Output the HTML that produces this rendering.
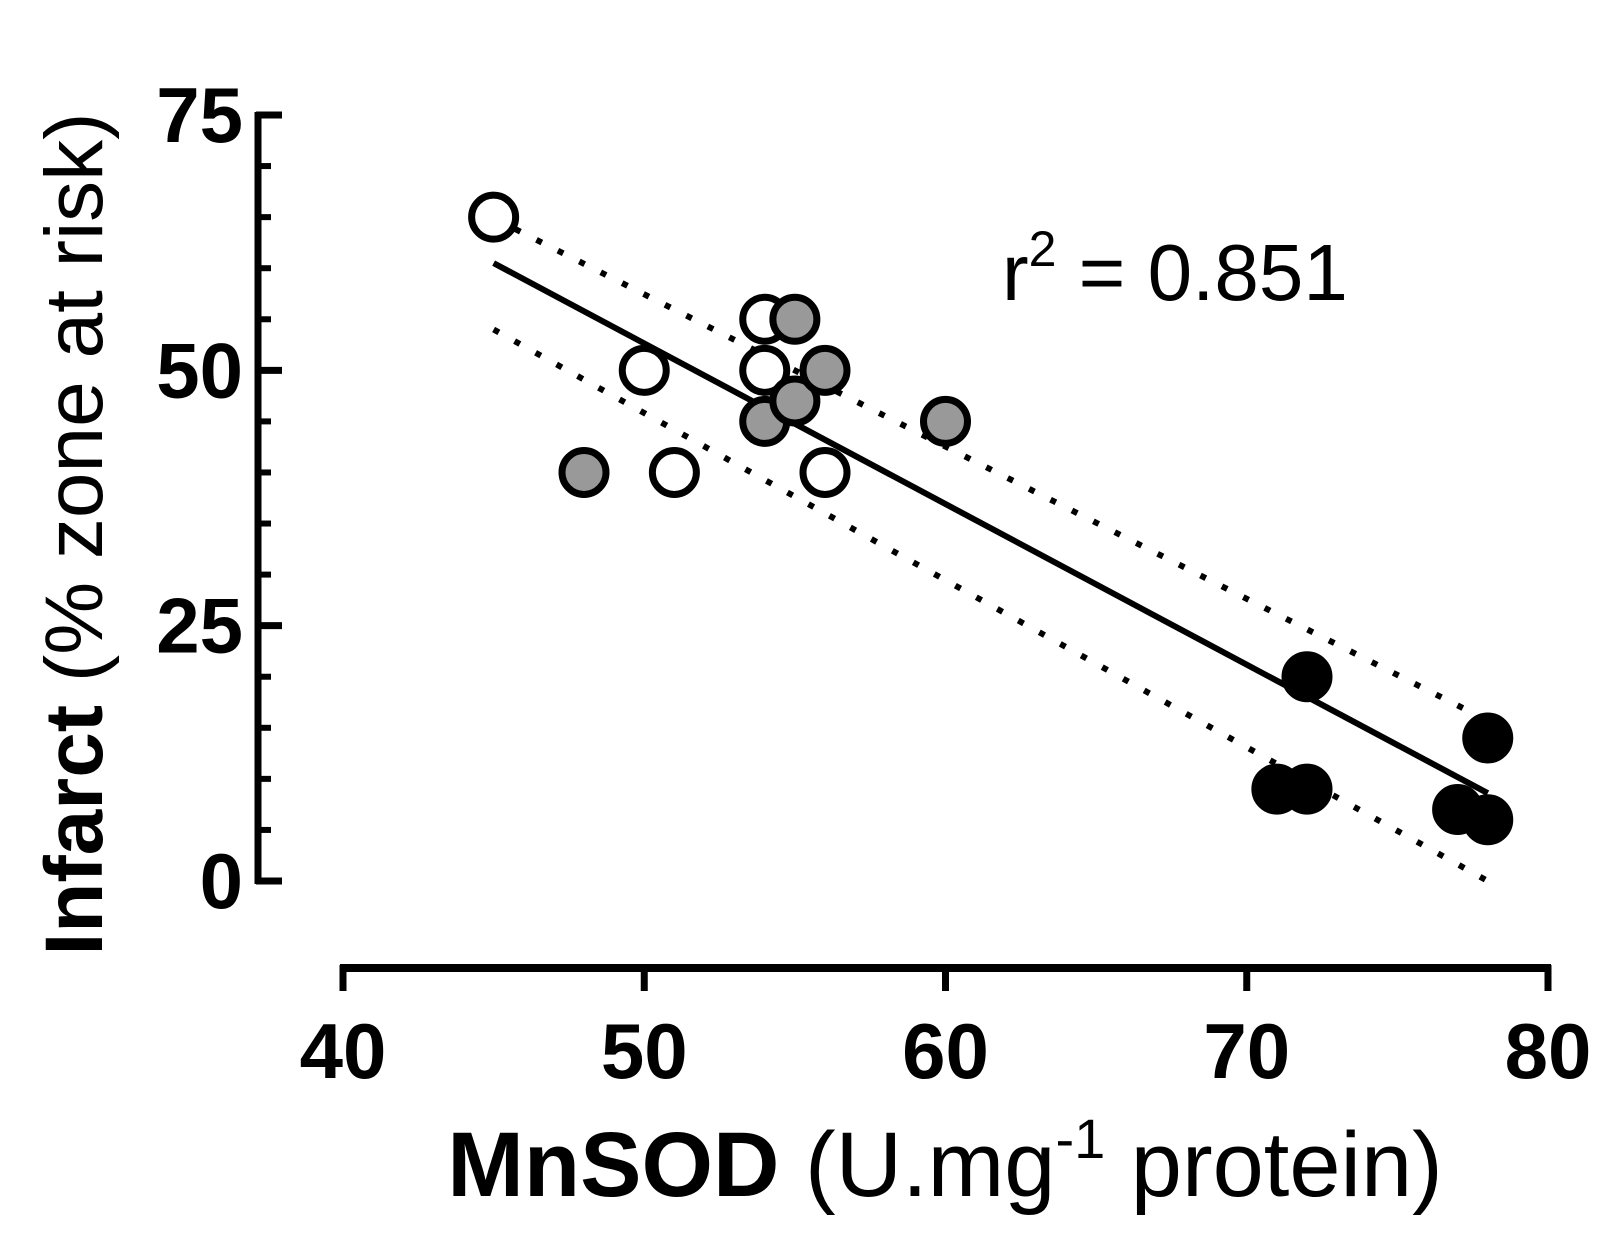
<!DOCTYPE html>
<html><head><meta charset="utf-8"><style>
body{margin:0;background:#fff}
svg{display:block;font-family:"Liberation Sans",Arial,sans-serif}
</style></head><body>
<svg id="chart" width="1604" height="1250" viewBox="0 0 1604 1250">
<g id="axes"></g><g id="lines"></g><g id="marks"></g>
<text x="1002" y="300" font-size="80">r<tspan dy="-34" font-size="50">2</tspan><tspan dy="34"> = 0.851</tspan></text>
<text transform="translate(102,534) rotate(-90)" text-anchor="middle" font-size="82"><tspan font-weight="bold">Infarct</tspan> (% zone at risk)</text>
<text x="945" y="1196" text-anchor="middle" font-size="92"><tspan font-weight="bold">MnSOD</tspan> (U.mg<tspan dy="-38" font-size="56">-1</tspan><tspan dy="38"> protein)</tspan></text>
</svg>
<script>
const xTicks=[40,50,60,70,80];
const yTicks=[0,25,50,75];
const openX=[45,50,51,54,54,56];
const openY=[65,50,40,55,50,40];
const grayX=[48,54,55,55,56,60];
const grayY=[40,45,55,47,50,45];
const blackX=[71,72,72,77,78,78];
const blackY=[9,9,20,7,6,14];
const fitX=[45,78];
const fitY=[60.5,8.6];
const upperY=[64.9,15.7];
const lowerY=[54,0];
const NS="http://www.w3.org/2000/svg";
const sx=v=>343+(v-40)*(1548-343)/40;
const sy=v=>881-v*(881-115)/75;
function mk(tag,attrs,parent){const e=document.createElementNS(NS,tag);for(const k in attrs)e.setAttribute(k,attrs[k]);document.getElementById(parent).appendChild(e);return e;}
let e=mk('line',{x1:258,y1:sy(75)-3,x2:258,y2:sy(0)+3,stroke:'#000','stroke-width':7},'axes');


for(let v=0;v<=75;v+=5){const major=v%25===0;
 e=mk('line',{x1:256,y1:sy(v),x2:major?282:271,y2:sy(v),stroke:'#000','stroke-width':major?7:6},'axes');
 
 }
yTicks.forEach(v=>{e=mk('text',{x:243,y:sy(v)+27,'text-anchor':'end','font-size':78,'font-weight':'bold'},'axes');e.textContent=v;
 
 });
e=mk('line',{x1:sx(40)-3,y1:968,x2:sx(80)+3,y2:968,stroke:'#000','stroke-width':8},'axes');


xTicks.forEach(v=>{e=mk('line',{x1:sx(v),y1:965,x2:sx(v),y2:991,stroke:'#000','stroke-width':7},'axes');
 
 
 e=mk('text',{x:sx(v),y:1078,'text-anchor':'middle','font-size':78,'font-weight':'bold'},'axes');e.textContent=v;
 
 });
e=mk('line',{x1:sx(fitX[0]),y1:sy(fitY[0]),x2:sx(fitX[1]),y2:sy(fitY[1]),stroke:'#000','stroke-width':6},'lines');


[[upperY,'upper-confidence-band'],[lowerY,'lower-confidence-band']].forEach(([ys,n])=>{
 e=mk('line',{x1:sx(fitX[0]),y1:sy(ys[0]),x2:sx(fitX[1]),y2:sy(ys[1]),stroke:'#000','stroke-width':6,'stroke-dasharray':'6 18'},'lines');
 
 });
function pts(xs,ys,fill,n){xs.forEach((x,i)=>{
 e=mk('circle',{cx:sx(x),cy:sy(ys[i]),r:22,fill:fill,stroke:'#000','stroke-width':7},'marks');
 
 });}
pts(openX,openY,'#fff','open-point');
pts(grayX,grayY,'#999','gray-point');
pts(blackX,blackY,'#000','black-point');
</script>
</body></html>
